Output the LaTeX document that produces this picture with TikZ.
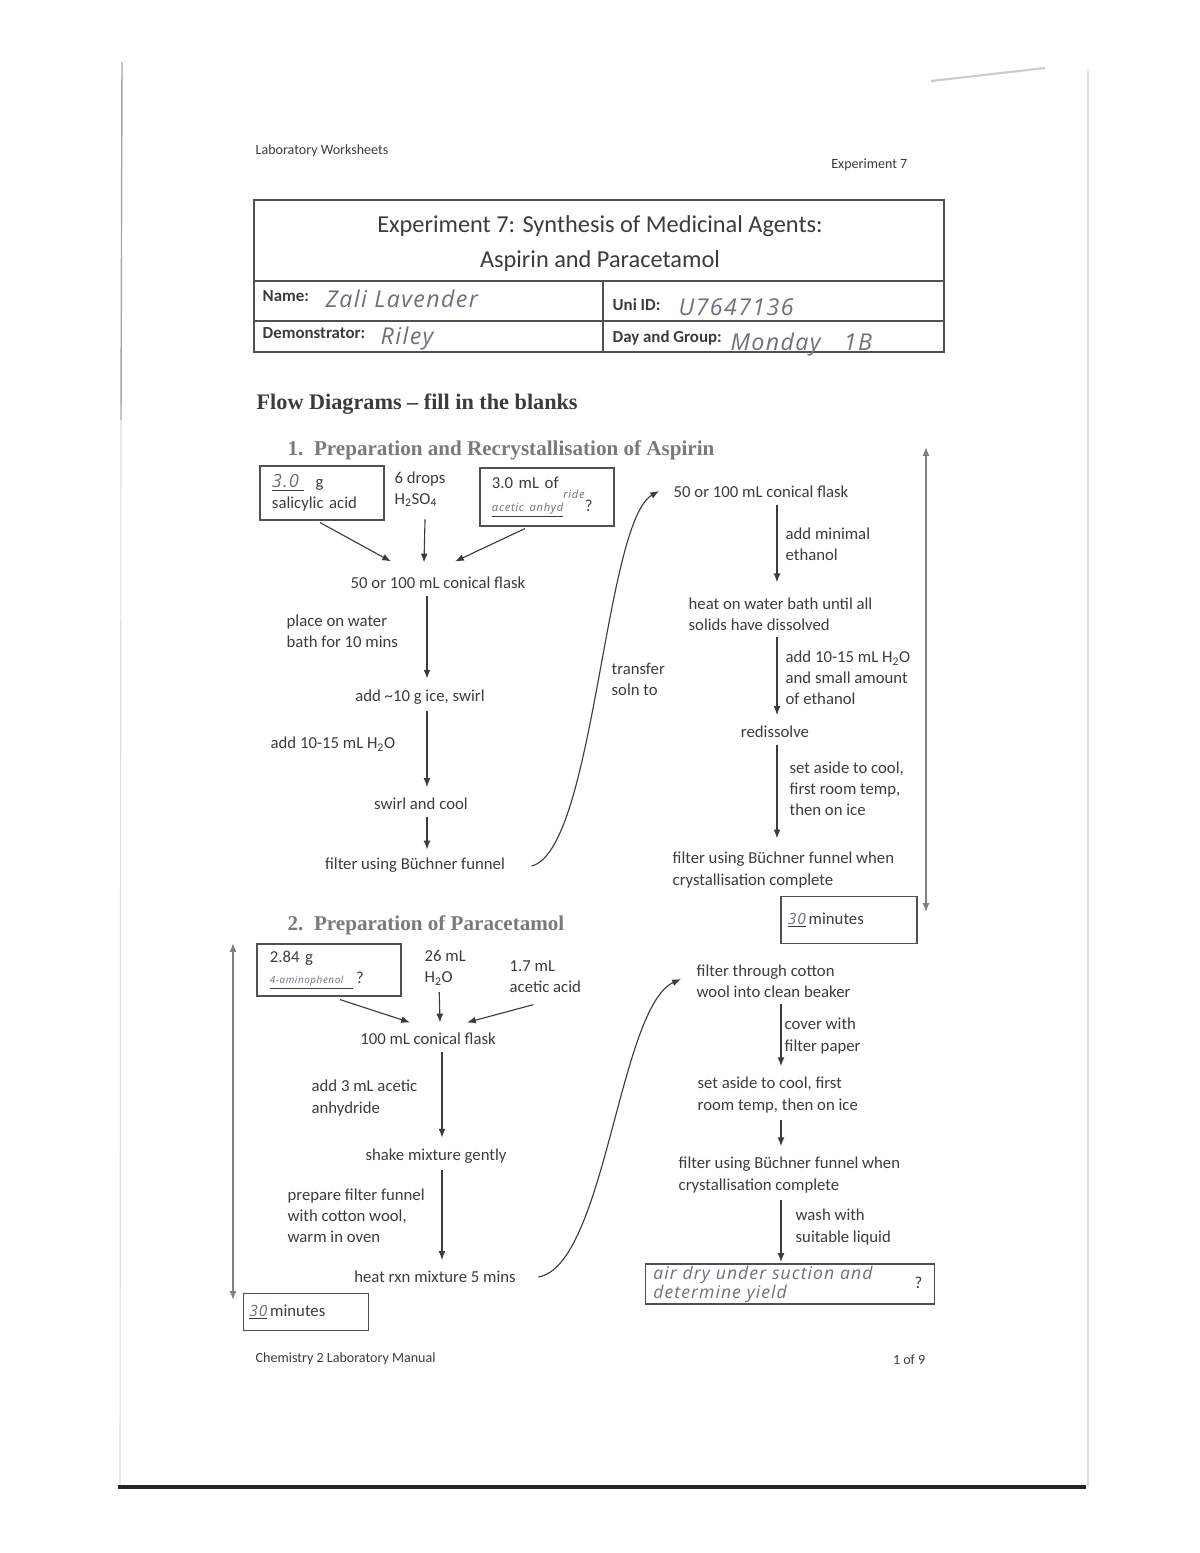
\documentclass[tikz,border=0pt]{standalone}
\usepackage{fontspec}
\setmainfont{Carlito}
\newfontfamily\headfont{Liberation Serif}
\newfontfamily\penfont{Open Sans}[LetterSpace=6]
\usepackage{tikz}
\usetikzlibrary{arrows.meta,calc,positioning}
\definecolor{ink}{HTML}{3C3C3C}
\definecolor{headgray}{HTML}{7A7A7A}
\definecolor{pen}{HTML}{6C7080}
\definecolor{boxline}{HTML}{505050}
\newcommand{\hand}[1]{{\penfont\itshape\color{pen}#1}}

\begin{document}
\begin{tikzpicture}[x=0.025cm,y=-0.025cm,>={Latex[length=2.2mm,width=1.7mm]},line width=0.8pt,
    every node/.style={text=ink,inner sep=1.5pt}]
  \tikzstyle{body}=[font=\fontsize{11.9}{15}\selectfont,align=left]
  \tikzstyle{small}=[font=\fontsize{10}{12}\selectfont]
  \tikzstyle{blankbox}=[draw=boxline,body,align=left,inner ysep=2pt]
  \tikzstyle{flowarrow}=[->,draw=ink,shorten <=3pt,shorten >=6pt]
  \tikzstyle{spanarrow}=[<->,draw=gray,line width=0.9pt]
  \tikzstyle{tablelabel}=[font=\bfseries\fontsize{12}{14}\selectfont,anchor=west]
  \tikzstyle{penbig}=[font=\penfont\itshape\fontsize{16.5}{18}\selectfont,text=pen,anchor=west]
  \useasboundingbox (0,0) rectangle (1200,1553);
  \fill[white] (0,0) rectangle (1200,1553);

  % scanned page edges
  \draw[gray!70,line width=1pt] (122,62) -- (121,420);
  \draw[gray!25,line width=0.8pt] (121,420) -- (120,1487);
  \draw[gray!25,line width=0.8pt] (1088,70) -- (1088,1487);
  \draw[black!85,line width=3pt] (118,1487) -- (1086,1487);
  \draw[gray!40,line width=1.5pt] (931,81) -- (1045,68);

  % header
  \node[small,anchor=west] (hdrleft) at (253,151) {Laboratory Worksheets};
  \node[small,anchor=east] (hdrright) at (910,165) {Experiment 7};

  % title table
  \draw[boxline] (254,200) rectangle (944,352);
  \draw[boxline] (254,281) -- (944,281);
  \draw[boxline] (254,321) -- (944,321);
  \draw[boxline] (603,281) -- (603,352);
  \node[font=\fontsize{17.3}{20}\selectfont] (title1) at (600,226) {Experiment 7: Synthesis of Medicinal Agents:};
  \node[font=\fontsize{17.3}{20}\selectfont] (title2) at (600,261) {Aspirin and Paracetamol};
  \node[tablelabel] (namelbl) at (260,296) {Name:};
  \node[penbig] (name) at (323,299) {Zali Lavender};
  \node[tablelabel] (unilbl) at (610,305) {Uni ID:};
  \node[penbig] (uni) at (676,307) {U7647136};
  \node[tablelabel] (demolbl) at (260,333) {Demonstrator:};
  \node[penbig] (demo) at (378,338) {Riley};
  \node[tablelabel] (daylbl) at (610,338) {Day and Group:};
  \node[penbig] (day) at (728,344) {Monday\quad 1B};

  % headings
  \node[anchor=west,font=\headfont\bfseries\fontsize{15.8}{18}\selectfont] (flowhead) at (254,404) {Flow Diagrams – fill in the blanks};
  \node[anchor=west,text=headgray,font=\headfont\bfseries\fontsize{15}{18}\selectfont] (sec1) at (285,450) {1.\ \ Preparation and Recrystallisation of Aspirin};

  % 1. aspirin, left column
  \node[blankbox,minimum height=1.35cm,text width=2.5cm,inner xsep=0.3cm] (salbox) at (322,493)
    {\underline{\hand{\fontsize{13}{15}\selectfont 3.0\ }}\ \ g\\salicylic acid};
  \node[body,anchor=west] (acid) at (392,489) {6 drops\\H\textsubscript{2}SO\textsubscript{4}};
  \node[blankbox,minimum height=1.45cm,text width=2.75cm,inner xsep=0.3cm] (anhbox) at (547,497)
    {3.0 mL of\\\underline{\hand{\fontsize{8}{9}\selectfont acetic anhyd}}\raisebox{1.7ex}{\hand{\fontsize{8}{9}\selectfont ride}}?};
  \node[body] (flaskA) at (438,583) {50 or 100 mL conical flask};
  \draw[->,draw=ink] ($(salbox.south)+(-2,2)$) -- ($(flaskA.north)+(-47,-13)$);
  \draw[->,draw=ink] ($(acid.south)+(5,10)$) -- ($(flaskA.north)+(-14,-12)$);
  \draw[->,draw=ink] ($(anhbox.south)+(-22,2)$) -- ($(flaskA.north)+(17,-13)$);

  \coordinate (spineA) at (427,0);
  \node[body,anchor=west] (bathA) at (284,631) {place on water\\bath for 10 mins};
  \node[body] (iceA) at (420,697) {add \textasciitilde10 g ice, swirl};
  \node[body,anchor=west] (waterA) at (268,744) {add 10-15 mL H\textsubscript{2}O};
  \node[body] (coolA) at (421,804) {swirl and cool};
  \node[body] (filterA) at (415,865) {filter using Büchner funnel};
  \draw[flowarrow] (flaskA.south -| spineA) -- (iceA.north -| spineA);
  \draw[flowarrow] (iceA.south -| spineA) -- (coolA.north -| spineA);
  \draw[flowarrow,shorten >=4pt] (coolA.south -| spineA) -- (filterA.north -| spineA);

  % transfer to recrystallisation
  \node[body] (flaskB) at (761,492) {50 or 100 mL conical flask};
  \node[body,anchor=west] (transfer) at (609,679) {transfer\\soln to};
  \draw[->,draw=ink] ($(filterA.east)+(24,1)$) .. controls +(63,-16) and +(-55,32) .. ($(flaskB.west)+(-12,-1)$);

  % 1. aspirin, right column
  \coordinate (spineB) at (777,0);
  \node[body,anchor=west] (ethanolB) at (783,544) {add minimal\\ethanol};
  \node[body,anchor=west] (heatB) at (686,614) {heat on water bath until all\\solids have dissolved};
  \node[body,anchor=west] (waterB) at (783,678) {add 10-15 mL H\textsubscript{2}O\\and small amount\\of ethanol};
  \node[body] (redisB) at (775,732) {redissolve};
  \node[body,anchor=west] (coolB) at (787,789) {set aside to cool,\\first room temp,\\then on ice};
  \node[body,anchor=west] (filterB) at (670,870) {filter using Büchner funnel when\\crystallisation complete};
  \draw[flowarrow,shorten >=9pt] (flaskB.south -| spineB) -- (heatB.north -| spineB);
  \draw[flowarrow] (heatB.south -| spineB) -- (redisB.north -| spineB);
  \draw[flowarrow,shorten >=8pt] (redisB.south -| spineB) -- (filterB.north -| spineB);
  \node[blankbox,minimum height=1.175cm,text width=3.05cm,inner xsep=0.175cm] (timeB) at (849,920)
    {\underline{\hand{\fontsize{11}{13}\selectfont 30}}\,minutes};
  \coordinate (spanTopA) at (926,447);
  \coordinate (spanBotA) at (926,912);
  \draw[spanarrow] (spanTopA) -- (spanBotA);

  % 2. paracetamol, left column
  \node[anchor=west,text=headgray,font=\headfont\bfseries\fontsize{15}{18}\selectfont] (sec2) at (285,925) {2.\ \ Preparation of Paracetamol};
  \node[blankbox,minimum height=1.3cm,text width=2.95cm,inner xsep=0.325cm] (ambox) at (329,970)
    {2.84 g\\\underline{\hand{\fontsize{7}{8}\selectfont 4-aminophenol\quad}}\,?};
  \node[body,anchor=west] (waterC) at (422,968) {26 mL\\H\textsubscript{2}O};
  \node[body,anchor=west] (aceticC) at (507,977) {1.7 mL\\acetic acid};
  \node[body] (flaskC) at (428,1039) {100 mL conical flask};
  \draw[->,draw=ink] ($(ambox.south)+(11,3)$) -- ($(flaskC.north)+(-18,-8)$);
  \draw[->,draw=ink] ($(waterC.south)+(-6,4)$) -- ($(flaskC.north)+(12,-8)$);
  \draw[->,draw=ink] ($(aceticC.south)+(-12,9)$) -- ($(flaskC.north)+(39,-8)$);

  \coordinate (spineC) at (442,0);
  \node[body,anchor=west] (anhC) at (309,1098) {add 3 mL acetic\\anhydride};
  \node[body] (shakeC) at (436,1156) {shake mixture gently};
  \node[body,anchor=west] (prepC) at (285,1216) {prepare filter funnel\\with cotton wool,\\warm in oven};
  \node[body] (heatC) at (435,1277) {heat rxn mixture 5 mins};
  \draw[flowarrow] (flaskC.south -| spineC) -- (shakeC.north -| spineC);
  \draw[flowarrow] (shakeC.south -| spineC) -- (heatC.north -| spineC);
  \coordinate (spanTopC) at (233,943);
  \coordinate (spanBotC) at (233,1300);
  \draw[spanarrow] (spanTopC) -- (spanBotC);
  \node[blankbox,minimum height=0.925cm,text width=2.825cm,inner xsep=0.15cm] (timeC) at (306,1312)
    {\underline{\hand{\fontsize{11}{13}\selectfont 30}}\,minutes};

  % 2. paracetamol, right column
  \node[body,anchor=west] (filtC) at (694,981) {filter through cotton\\wool into clean beaker};
  \draw[->,draw=ink] ($(heatC.east)+(20,0)$) .. controls +(67,-12) and +(-62,28) .. ($(filtC.west)+(-13,-2)$);
  \coordinate (spineD) at (781,0);
  \node[body,anchor=west] (paperC) at (782,1036) {cover with\\filter paper};
  \node[body,anchor=west] (setC) at (695,1095) {set aside to cool, first\\room temp, then on ice};
  \node[body,anchor=west] (filterC) at (676,1175) {filter using Büchner funnel when\\crystallisation complete};
  \node[body,anchor=west] (washC) at (793,1227) {wash with\\suitable liquid};
  \node[draw=boxline,minimum width=7.225cm,minimum height=1cm,text width=6.825cm,align=left,inner xsep=0.2cm,inner ysep=1pt,
    font=\penfont\itshape\fontsize{12.5}{13.5}\selectfont,text=pen] (drybox) at (790,1284)
    {air dry under suction and\\determine yield};
  \node[body,anchor=east] (dryq) at ($(drybox.east)+(-10,-1)$) {?};
  \draw[flowarrow] (filtC.south -| spineD) -- (setC.north -| spineD);
  \draw[flowarrow] (setC.south -| spineD) -- (filterC.north -| spineD);
  \draw[flowarrow,shorten >=1pt] (filterC.south -| spineD) -- (drybox.north -| spineD);

  % footer
  \node[small,anchor=west] (footleft) at (253,1359) {Chemistry 2 Laboratory Manual};
  \node[small,anchor=east] (footright) at (928,1360) {1 of 9};
\end{tikzpicture}
\end{document}
